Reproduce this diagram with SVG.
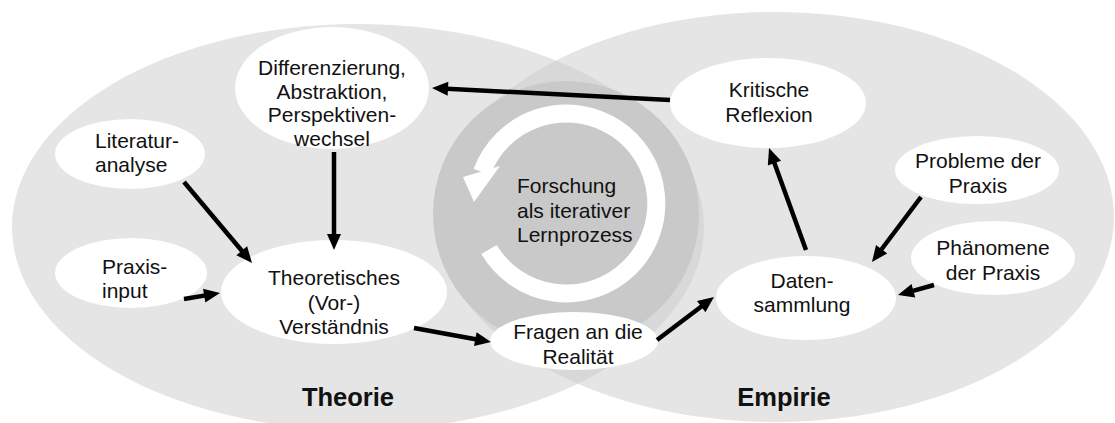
<svg xmlns="http://www.w3.org/2000/svg" width="1115" height="423" viewBox="0 0 1115 423">
  <style>
    .field { fill: #e5e5e5; }
    .lens { fill: #d8d8d8; }
    .core { fill: #c9c9c9; }
    .node { fill: #ffffff; }
    .txt { font-family: "Liberation Sans", Arial, sans-serif; font-size: 21px; fill: #111111; }
    .mid { text-anchor: middle; }
    .area { font-family: "Liberation Sans", Arial, sans-serif; font-size: 25.5px; font-weight: bold; fill: #111111; text-anchor: middle; }
    .link { stroke: #000000; stroke-width: 4.5; fill: none; marker-end: url(#ah); }
  </style>
  <defs>
    <marker id="ah" markerUnits="userSpaceOnUse" markerWidth="16" markerHeight="14" refX="6" refY="7" orient="auto" overflow="visible">
      <path d="M0,0 L16,7 L0,14 z" fill="#000000"/>
    </marker>
    <clipPath id="clipTheorie">
      <ellipse cx="358" cy="227" rx="346" ry="203"/>
    </clipPath>
  </defs>

  <rect x="0" y="0" width="1115" height="423" fill="#ffffff"/>

  <!-- the two domains and their overlap -->
  <g id="domains">
    <ellipse class="field" cx="358" cy="227" rx="346" ry="203"/>
    <ellipse class="field" cx="775" cy="217" rx="339" ry="205"/>
    <ellipse class="lens" cx="775" cy="217" rx="339" ry="205" clip-path="url(#clipTheorie)"/>
  </g>

  <!-- central cycle -->
  <g id="cycle">
    <circle class="core" cx="566" cy="214" r="133"/>
    <path d="M489,249.5 A90,90 0 1 0 482,172" fill="none" stroke="#ffffff" stroke-width="18"/>
    <polygon points="463,177 500,166 474,202" fill="#ffffff"/>
    <text class="txt" x="517" y="193">Forschung</text>
    <text class="txt" x="517" y="218">als iterativer</text>
    <text class="txt" x="517" y="242">Lernprozess</text>
  </g>

  <g id="differenzierung">
    <ellipse class="node" cx="332" cy="88" rx="97" ry="61"/>
    <text class="txt mid" x="332" y="75">Differenzierung,</text>
    <text class="txt mid" x="332" y="99">Abstraktion,</text>
    <text class="txt mid" x="332" y="122">Perspektiven-</text>
    <text class="txt mid" x="332" y="146">wechsel</text>
  </g>

  <g id="literaturanalyse">
    <ellipse class="node" cx="130" cy="154" rx="75" ry="35"/>
    <text class="txt" x="95" y="148">Literatur-</text>
    <text class="txt" x="95" y="172">analyse</text>
  </g>

  <g id="praxisinput">
    <ellipse class="node" cx="131" cy="273" rx="76" ry="35"/>
    <text class="txt" x="102" y="274">Praxis-</text>
    <text class="txt" x="102" y="298">input</text>
  </g>

  <g id="vorverstaendnis">
    <ellipse class="node" cx="334" cy="292" rx="113" ry="52"/>
    <text class="txt mid" x="334" y="285">Theoretisches</text>
    <text class="txt mid" x="334" y="310">(Vor-)</text>
    <text class="txt mid" x="334" y="334">Verständnis</text>
  </g>

  <g id="fragen">
    <ellipse class="node" cx="574" cy="341" rx="84" ry="29"/>
    <text class="txt mid" x="578" y="339">Fragen an die</text>
    <text class="txt mid" x="578" y="364">Realität</text>
  </g>

  <g id="reflexion">
    <ellipse class="node" cx="768" cy="103" rx="98" ry="45"/>
    <text class="txt mid" x="769" y="97">Kritische</text>
    <text class="txt mid" x="769" y="122">Reflexion</text>
  </g>

  <g id="probleme">
    <ellipse class="node" cx="977" cy="170" rx="82" ry="34"/>
    <text class="txt mid" x="978" y="168">Probleme der</text>
    <text class="txt mid" x="978" y="193">Praxis</text>
  </g>

  <g id="phaenomene">
    <ellipse class="node" cx="993" cy="258" rx="82" ry="37"/>
    <text class="txt mid" x="993" y="255">Phänomene</text>
    <text class="txt mid" x="993" y="280">der Praxis</text>
  </g>

  <g id="datensammlung">
    <ellipse class="node" cx="806" cy="298" rx="90" ry="42"/>
    <text class="txt mid" x="802" y="288">Daten-</text>
    <text class="txt mid" x="802" y="312">sammlung</text>
  </g>

  <g id="labels">
    <text class="area" x="348" y="406">Theorie</text>
    <text class="area" x="784" y="406">Empirie</text>
  </g>

  <g id="connectors">
    <line class="link" x1="670" y1="100" x2="442" y2="88.5"/>
    <line class="link" x1="334" y1="152" x2="334" y2="240"/>
    <line class="link" x1="184" y1="182" x2="245.6" y2="255.3"/>
    <line class="link" x1="184" y1="299" x2="210.1" y2="294.6"/>
    <line class="link" x1="414" y1="328" x2="481.2" y2="340.2"/>
    <line class="link" x1="657" y1="340" x2="706" y2="303"/>
    <line class="link" x1="806" y1="250" x2="772.4" y2="157.4"/>
    <line class="link" x1="921" y1="197" x2="878" y2="254"/>
    <line class="link" x1="934" y1="285" x2="907.6" y2="292.3"/>
  </g>
</svg>
